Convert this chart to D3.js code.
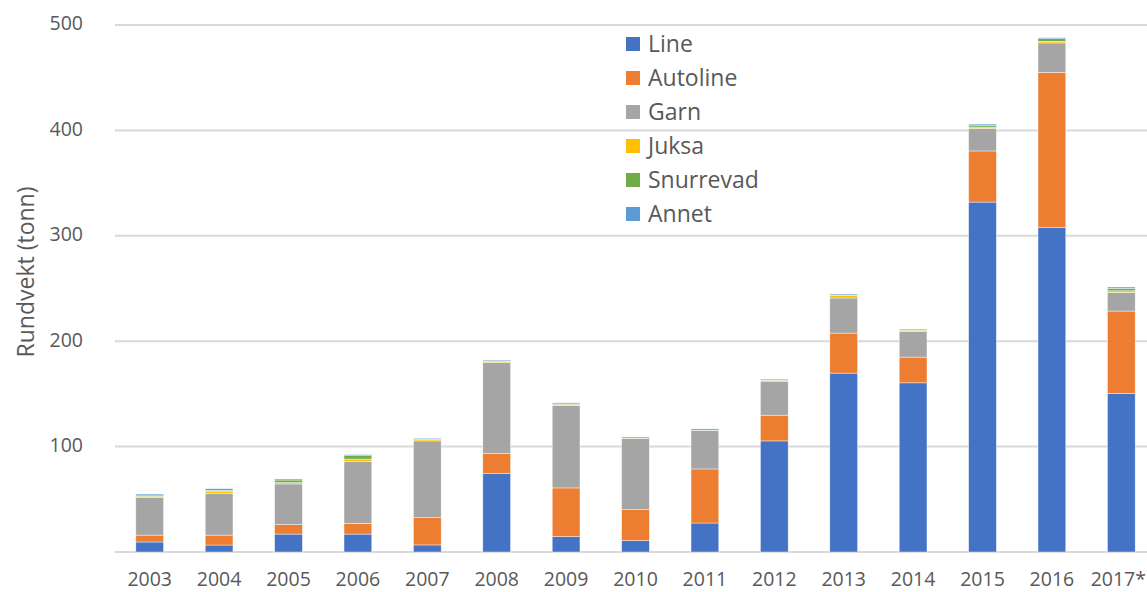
<!DOCTYPE html>
<html>
<head>
<meta charset="utf-8">
<script src="https://cdn.jsdelivr.net/npm/d3@7"></script>
<style>
  html, body { margin: 0; padding: 0; background: #fff; }
  svg { display: block; }
  text { font-family: "Open Sans", "Noto Sans", sans-serif; fill: #595959; }
</style>
</head>
<body>
<svg id="chart" width="1147" height="592"></svg>
<script>
const years = ["2003","2004","2005","2006","2007","2008","2009","2010","2011","2012","2013","2014","2015","2016","2017*"];
const seriesNames = ["Line","Autoline","Garn","Juksa","Snurrevad","Annet"];
const seriesColors = ["#4472C4","#ED7D31","#A5A5A5","#FFC000","#70AD47","#5B9BD5"];
const line      = [9.5, 6.6, 17.0, 17.0, 6.7, 74.7, 14.6, 10.8, 27.5, 105.4, 169.7, 160.5, 332.0, 307.7, 150.4];
const autoline  = [6.5, 9.4, 9.0, 10.2, 25.9, 19.0, 46.2, 29.4, 51.3, 24.4, 38.0, 24.4, 48.5, 147.3, 78.2];
const garn      = [35.6, 39.7, 38.6, 58.8, 72.8, 86.1, 78.2, 67.4, 36.4, 32.3, 33.3, 24.3, 21.5, 28.0, 17.7];
const juksa     = [1.2, 2.0, 1.2, 2.2, 1.2, 1.0, 1.0, 0.2, 0.2, 0.8, 2.5, 1.2, 1.2, 1.5, 1.5];
const snurrevad = [1.2, 0.8, 2.5, 3.2, 0.3, 0.3, 0.5, 0.3, 0.2, 0.2, 0.2, 0.2, 1.8, 2.5, 2.4];
const annet     = [1.0, 1.5, 1.0, 1.0, 0.9, 0.9, 1.0, 1.0, 1.2, 0.9, 1.0, 0.9, 1.0, 1.0, 1.2];
const yTicks = [0, 100, 200, 300, 400, 500];
const yTickLabels = ["", "100", "200", "300", "400", "500"];
const yTitle = "Rundvekt (tonn)";

const seriesValues = [line, autoline, garn, juksa, snurrevad, annet];
const table = years.map((y, i) => {
  const row = { year: y };
  seriesNames.forEach((s, k) => row[s] = seriesValues[k][i]);
  return row;
});

const W = 1147;
const svg = d3.select("#chart");
const x = d3.scaleBand().domain(years).range([115, 1156]).paddingInner(0.6).paddingOuter(0.3);
const y = d3.scaleLinear().domain([0, 500]).range([552, 25]);

// gridlines
svg.append("g").selectAll("line").data(yTicks).join("line")
  .attr("x1", 115).attr("x2", W)
  .attr("y1", d => y(d)).attr("y2", d => y(d))
  .attr("stroke", "#D9D9D9").attr("stroke-width", 2);

// y tick labels
const yAxis = d3.axisLeft(y).tickValues(yTicks).tickSize(0).tickPadding(0)
  .tickFormat((d, i) => yTickLabels[i]);
const ya = svg.append("g").attr("transform", "translate(83,-2)").call(yAxis);
ya.select(".domain").remove();
ya.selectAll("text").attr("font-size", 19.5).attr("fill", "#595959")
  .style("font-family", '"Open Sans", sans-serif').attr("dy", "0.35em");

// x axis labels
const xAxis = d3.axisBottom(x).tickSize(0).tickPadding(0);
const xa = svg.append("g").attr("transform", "translate(0,572)").call(xAxis);
xa.select(".domain").remove();
xa.selectAll("text").attr("font-size", 19.5).attr("fill", "#595959")
  .style("font-family", '"Open Sans", sans-serif').attr("dy", "0.71em");
// keep the last (cropped) label inside the picture
xa.selectAll(".tick").each(function() {
  const t = d3.select(this).select("text");
  const bb = this.getBoundingClientRect();
  if (bb.right > W - 1) {
    t.attr("dx", -(bb.right - (W - 1)));
  }
});

// stacked bars
const stack = d3.stack().keys(seriesNames);
const stacked = stack(table);
svg.append("g").selectAll("g").data(stacked).join("g")
  .attr("fill", (d, i) => seriesColors[i])
  .selectAll("rect").data(d => d).join("rect")
  .attr("x", d => x(d.data.year))
  .attr("width", x.bandwidth())
  .attr("y", d => y(d[1]))
  .attr("height", d => y(d[0]) - y(d[1]))
  .attr("stroke", "#ffffff").attr("stroke-width", 0.6).attr("stroke-opacity", 0.7);

// y title
svg.append("text")
  .attr("transform", "translate(34,272) rotate(-90)")
  .attr("text-anchor", "middle")
  .attr("font-size", 23)
  .text(yTitle);

// legend
const lg = svg.append("g").selectAll("g").data(seriesNames).join("g")
  .attr("transform", (d, i) => `translate(626,${44 + i * 34})`);
lg.append("rect").attr("x", 0).attr("y", -7).attr("width", 14).attr("height", 14)
  .attr("fill", (d, i) => seriesColors[i]);
lg.append("text").attr("x", 22).attr("y", 0).attr("dy", "0.35em")
  .attr("font-size", 23).text(d => d);
</script>
</body>
</html>
